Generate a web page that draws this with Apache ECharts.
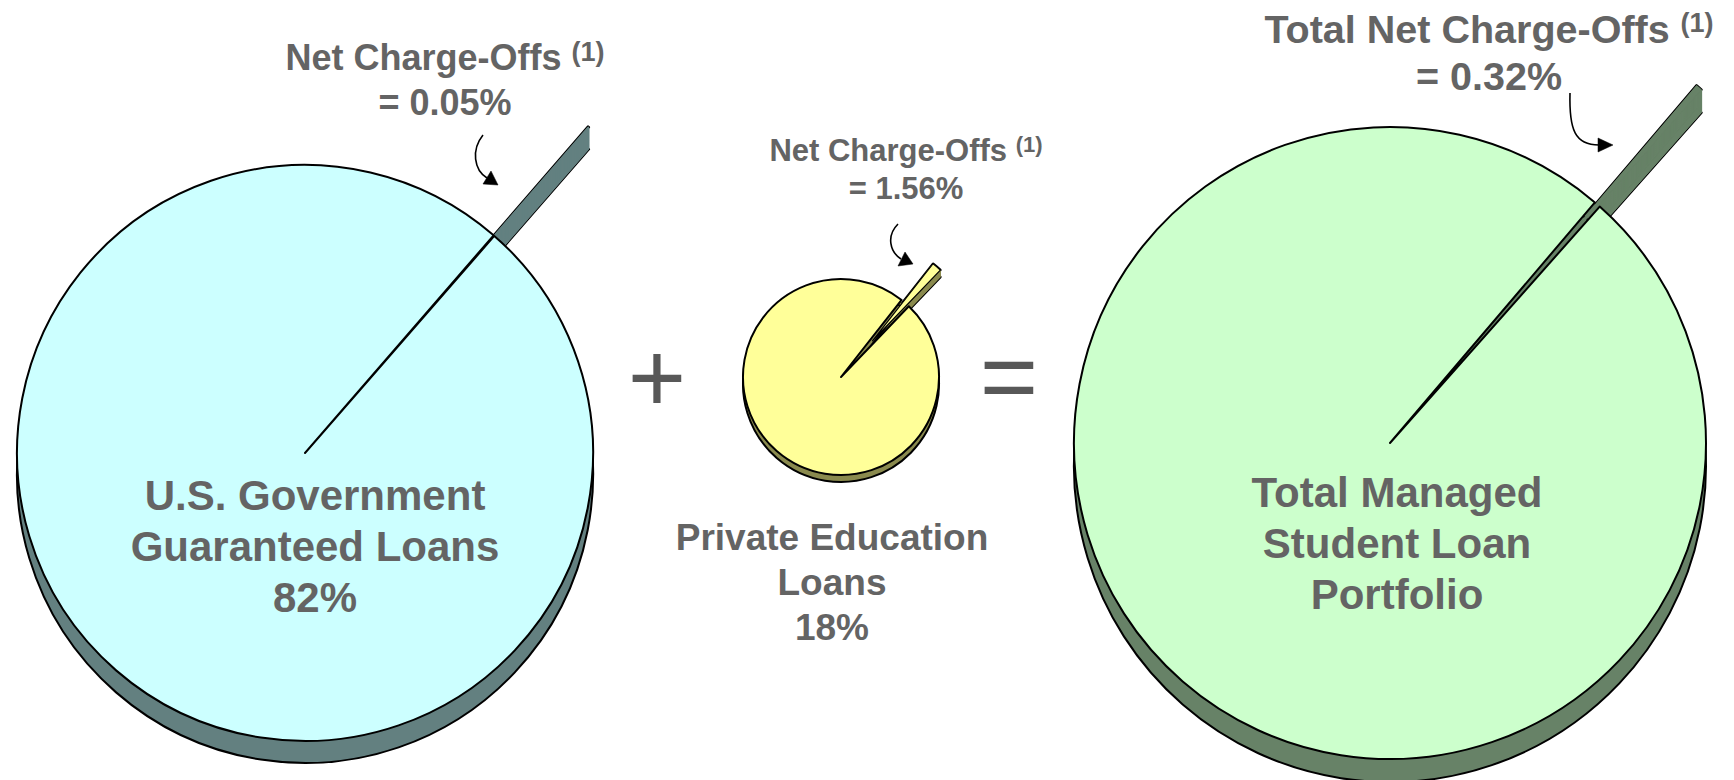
<!DOCTYPE html>
<html>
<head>
<meta charset="utf-8">
<script src="https://cdn.jsdelivr.net/npm/echarts@6/dist/echarts.min.js"></script>
<style>
html, body { margin: 0; padding: 0; background: #ffffff; }
#chart { width: 1734px; height: 780px; }
</style>
</head>
<body>
<div id="chart"></div>
<script>
// ---------------- data ----------------
const portfolios = ['U.S. Government Guaranteed Loans', 'Private Education Loans', 'Total Managed Student Loan Portfolio'];
const portfolioLabelLines = [['U.S. Government', 'Guaranteed Loans'], ['Private Education', 'Loans'], ['Total Managed', 'Student Loan', 'Portfolio']];
const portfolioShare = [82, 18, null];
const netChargeOffRate = [0.05, 1.56, 0.32];
const chargeOffTitles = ['Net Charge-Offs', 'Net Charge-Offs', 'Total Net Charge-Offs'];
const footnoteMark = '(1)';
const operators = ['+', '='];

// ---------------- layout & style ----------------
const FONT = "'Liberation Sans', Arial, sans-serif";
const TEXT = '#646464';
const OPER = '#585858';
const sliceAngle = 49;
const layout = [
  { cx: 305, cy: 453, r: 288, depth: 22, explode: 144, face: '#CCFFFF', side: '#638080', sliceTop: '#638080', sliceBorder: '#638080',
    labelX: 315, labelY: 546, labelSize: 42, labelLH: 51,
    coX: 445, coY: 80, coSize: 36, supSize: 27, coLH: 45 },
  { cx: 841, cy: 377, r: 98, depth: 7, explode: 48, face: '#FFFF99', side: '#8A8A4E', sliceTop: '#FFFF99', sliceBorder: '#000000',
    labelX: 832, labelY: 582, labelSize: 37, labelLH: 45,
    coX: 906, coY: 169, coSize: 31, supSize: 22, coLH: 38 },
  { cx: 1390, cy: 443, r: 316, depth: 23, explode: 155, face: '#CCFFCC', side: '#678267', sliceTop: '#678267', sliceBorder: '#678267',
    labelX: 1397, labelY: 543, labelSize: 42, labelLH: 51,
    coX: 1489, coY: 52, coSize: 39.5, supSize: 27, coLH: 47 }
];
const operatorPos = [[657, 377], [1009, 376]];
const arrows = [
  { p: [483, 135, 471, 150, 474, 170, 487, 178], head: [[498, 185], [483, 184], [491, 171]] },
  { p: [898, 224, 886, 236, 890, 252, 901, 259], head: [[913, 264], [898, 266], [905, 252]] },
  { p: [1570, 93, 1569, 130, 1575, 145, 1599, 145], head: [[1613, 145], [1598, 138], [1598, 152]] }
];

// ---------------- series ----------------
// Each 3-D pie = outline layers + stacked depth layers + top face, all the same pie
// (share of net charge-offs exploded with the library's selectedOffset).
function pieSeries(i, k, kind) {
  const L = layout[i];
  const rate = netChargeOffRate[i];
  const clear = { color: 'rgba(0,0,0,0)', borderWidth: 0 };
  let bigStyle, smallStyle;
  if (kind === 'top') {
    bigStyle = { color: L.face, borderColor: '#000000', borderWidth: 2 };
    smallStyle = { color: L.sliceTop, borderColor: L.sliceBorder, borderWidth: L.sliceBorder === '#000000' ? 1.2 : 0.6 };
  } else if (kind === 'outline') {
    bigStyle = clear;
    smallStyle = { color: L.side, borderColor: '#000000', borderWidth: 2.6 };
  } else if (kind === 'bottom') {
    bigStyle = { color: L.side, borderColor: '#000000', borderWidth: 2 };
    smallStyle = { color: L.side, borderColor: L.side, borderWidth: 0.6 };
  } else {
    bigStyle = { color: L.side, borderWidth: 0 };
    smallStyle = { color: L.side, borderColor: L.side, borderWidth: 1.6 };
  }
  return {
    type: 'pie',
    name: portfolios[i],
    center: [L.cx, L.cy + k],
    radius: L.r,
    startAngle: sliceAngle + rate * 3.6 / 2,
    clockwise: true,
    selectedMode: 'multiple',
    selectedOffset: L.explode,
    animation: false,
    label: { show: false },
    labelLine: { show: false },
    emphasis: { disabled: true },
    data: [
      { name: 'Net Charge-Offs', value: rate, selected: true, itemStyle: smallStyle, select: { itemStyle: smallStyle } },
      { name: portfolios[i], value: 100 - rate, itemStyle: bigStyle, select: { itemStyle: bigStyle } }
    ]
  };
}

const series = [];
layout.forEach(function (L, i) {
  series.push(pieSeries(i, 0, 'outline'));
  series.push(pieSeries(i, L.depth, 'outline'));
  for (let k = 1; k < L.depth; k++) series.push(pieSeries(i, k, 'mid'));
  series.push(pieSeries(i, L.depth, 'bottom'));
  series.push(pieSeries(i, 0, 'top'));
});

// ---------------- texts & arrows ----------------
const graphics = [];
layout.forEach(function (L, i) {
  const lines = portfolioLabelLines[i].slice();
  if (portfolioShare[i] != null) lines.push(portfolioShare[i] + '%');
  graphics.push({
    type: 'text', x: L.labelX, y: L.labelY, z: 100,
    style: {
      text: lines.join('\n'), fill: TEXT, fontFamily: FONT, fontWeight: 'bold',
      fontSize: L.labelSize, lineHeight: L.labelLH, align: 'center', verticalAlign: 'middle'
    }
  });
  graphics.push({
    type: 'text', x: L.coX, y: L.coY, z: 100,
    style: {
      text: '{t|' + chargeOffTitles[i] + ' }{s|' + footnoteMark + '}\n{t|= ' + netChargeOffRate[i].toFixed(2) + '%}',
      fill: TEXT, fontFamily: FONT, fontWeight: 'bold', fontSize: L.coSize, lineHeight: L.coLH,
      align: 'center', verticalAlign: 'middle',
      rich: {
        t: { fill: TEXT, fontFamily: FONT, fontWeight: 'bold', fontSize: L.coSize, lineHeight: L.coLH, align: 'center' },
        s: { fill: TEXT, fontFamily: FONT, fontWeight: 'bold', fontSize: L.supSize, lineHeight: L.coLH, align: 'center', padding: [0, 0, 12, 0] }
      }
    }
  });
});
operators.forEach(function (op, j) {
  graphics.push({
    type: 'text', x: operatorPos[j][0], y: operatorPos[j][1], z: 100,
    style: { text: op, fill: OPER, fontFamily: FONT, fontWeight: 'normal', fontSize: 100, align: 'center', verticalAlign: 'middle' }
  });
});
arrows.forEach(function (a) {
  const p = a.p;
  graphics.push({
    type: 'bezierCurve', z: 100,
    shape: { x1: p[0], y1: p[1], cpx1: p[2], cpy1: p[3], cpx2: p[4], cpy2: p[5], x2: p[6], y2: p[7] },
    style: { stroke: '#000000', lineWidth: 1.6, fill: null }
  });
  graphics.push({
    type: 'polygon', z: 100,
    shape: { points: a.head },
    style: { fill: '#000000', stroke: '#000000', lineWidth: 0.5 }
  });
});

const chart = echarts.init(document.getElementById('chart'), null, { renderer: 'svg', width: 1734, height: 780 });
chart.setOption({
  backgroundColor: '#ffffff',
  animation: false,
  tooltip: { show: false },
  series: series,
  graphic: graphics
});
</script>
</body>
</html>
